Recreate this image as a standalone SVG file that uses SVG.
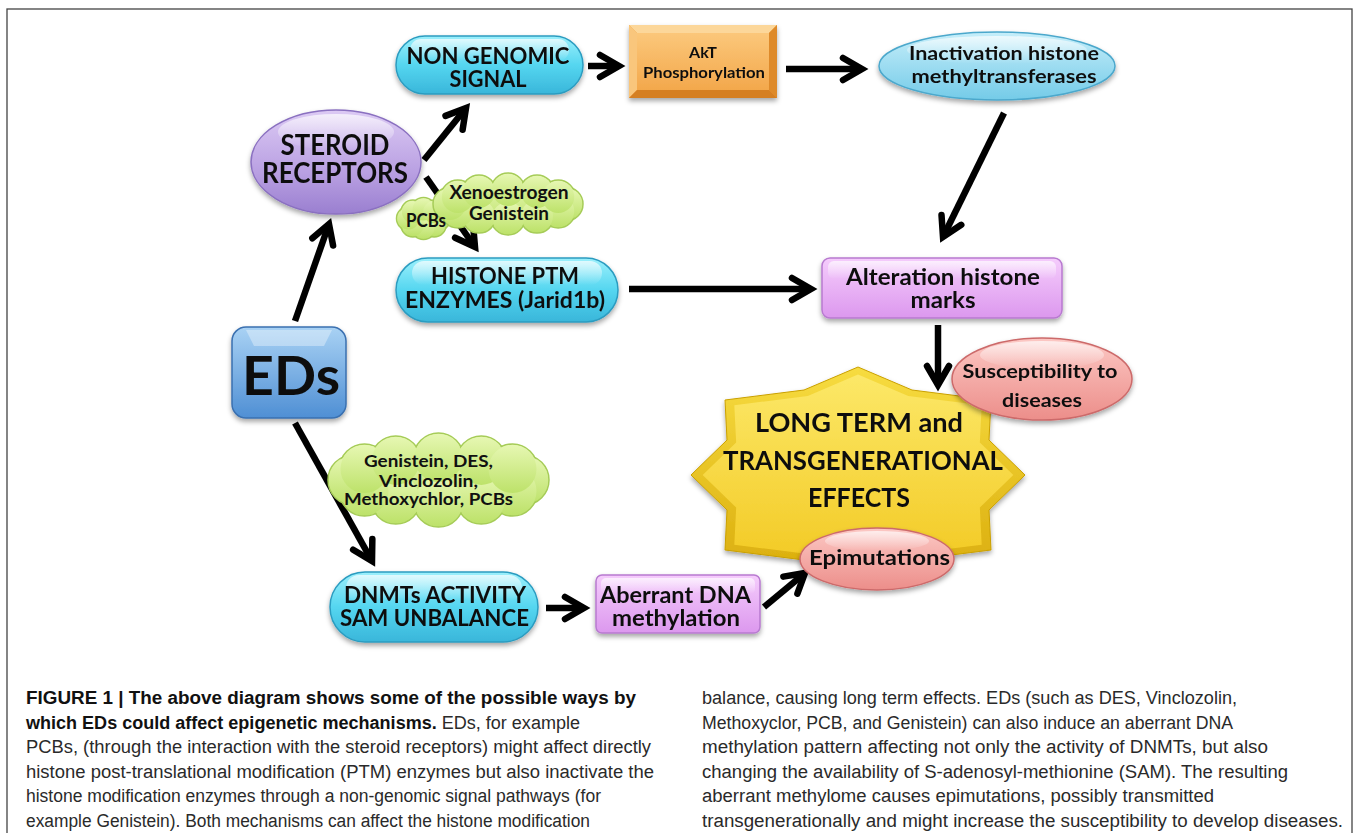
<svg xmlns="http://www.w3.org/2000/svg" width="1357" height="833" viewBox="0 0 1357 833">
<defs>
<style>
.lbl{font-family:Lato,"Liberation Sans",sans-serif;font-weight:bold;fill:#111;text-anchor:middle}
.cap{font-family:"Liberation Sans",Arial,sans-serif;font-size:18px;fill:#2a2a2a}
.capb{font-weight:bold;fill:#111}
.arr{stroke:#000;stroke-width:6.5;fill:none;marker-end:url(#ah)}
.sh{filter:url(#ds)}
</style>
<filter id="ds" x="-20%" y="-20%" width="140%" height="150%"><feDropShadow dx="0" dy="3" stdDeviation="2.5" flood-color="#000" flood-opacity="0.35"/></filter>
<marker id="ah" viewBox="-26 -16 34 32" refX="0" refY="0" markerWidth="34" markerHeight="32" orient="auto" markerUnits="userSpaceOnUse" overflow="visible">
<path d="M-19,-11 L0,0 L-19,11" fill="none" stroke="#000" stroke-width="6.5" stroke-linecap="round" stroke-linejoin="miter"/>
</marker>
<linearGradient id="gCyan" x1="0" y1="0" x2="0" y2="1"><stop offset="0" stop-color="#9cf0fc"/><stop offset="0.5" stop-color="#55d6f0"/><stop offset="1" stop-color="#39b6da"/></linearGradient>
<linearGradient id="gGloss" x1="0" y1="0" x2="0" y2="1"><stop offset="0" stop-color="#fff" stop-opacity="0.7"/><stop offset="1" stop-color="#fff" stop-opacity="0"/></linearGradient>
<linearGradient id="gLav" x1="0" y1="0" x2="0" y2="1"><stop offset="0" stop-color="#dccaf4"/><stop offset="0.6" stop-color="#b9a0e2"/><stop offset="1" stop-color="#9a7fd0"/></linearGradient>
<linearGradient id="gOr" x1="0" y1="0" x2="0" y2="1"><stop offset="0" stop-color="#fbc77a"/><stop offset="1" stop-color="#f3a84c"/></linearGradient>
<linearGradient id="gLb" x1="0" y1="0" x2="0" y2="1"><stop offset="0" stop-color="#c6eefa"/><stop offset="1" stop-color="#74cbe8"/></linearGradient>
<linearGradient id="gVio" x1="0" y1="0" x2="0" y2="1"><stop offset="0" stop-color="#f5ccfc"/><stop offset="1" stop-color="#dc98ee"/></linearGradient>
<linearGradient id="gBlue" x1="0" y1="0" x2="0" y2="1"><stop offset="0" stop-color="#a9d2f4"/><stop offset="1" stop-color="#4f8fd4"/></linearGradient>
<linearGradient id="gSal" x1="0" y1="0" x2="0" y2="1"><stop offset="0" stop-color="#fcc8c4"/><stop offset="1" stop-color="#ec8e8a"/></linearGradient>
<linearGradient id="gYel" x1="0" y1="0" x2="0" y2="1"><stop offset="0" stop-color="#fce868"/><stop offset="1" stop-color="#f2c820"/></linearGradient>
<linearGradient id="gYelD" x1="0" y1="0" x2="0" y2="1"><stop offset="0" stop-color="#f7dc40"/><stop offset="1" stop-color="#d9ab0a"/></linearGradient>
<linearGradient id="gGr" x1="0" y1="0" x2="0" y2="1"><stop offset="0" stop-color="#e6f7b2"/><stop offset="1" stop-color="#bde26a"/></linearGradient>
</defs>
<rect x="7" y="9" width="1345" height="860" fill="#fff" stroke="#444" stroke-width="1.3"/>

<g id="connectors">
<line class="arr" x1="295" y1="321" x2="329" y2="224"/>
<line class="arr" x1="424" y1="160" x2="466" y2="108"/>
<line class="arr" x1="426" y1="177" x2="475" y2="247"/>
<line class="arr" x1="588" y1="66" x2="619" y2="66"/>
<line class="arr" x1="786" y1="69" x2="862" y2="69"/>
<line class="arr" x1="1004" y1="113" x2="943" y2="237"/>
<line class="arr" x1="629" y1="289" x2="811" y2="289"/>
<line class="arr" x1="938" y1="325" x2="938" y2="385"/>
<line class="arr" x1="295" y1="423" x2="372" y2="561"/>
<line class="arr" x1="546" y1="608" x2="584" y2="608"/>
<line class="arr" x1="764" y1="607" x2="805" y2="573"/>
</g>

<g id="non-genomic" class="sh">
<rect x="396" y="36" width="187" height="58" rx="29" fill="url(#gCyan)" stroke="#2c9cc0" stroke-width="1.5"/>
<rect x="410" y="39" width="159" height="22" rx="11" fill="url(#gGloss)" style="filter:none"/>
<text class="lbl" x="488" y="64" font-size="22" textLength="163" lengthAdjust="spacingAndGlyphs">NON GENOMIC</text>
<text class="lbl" x="488" y="87" font-size="22" textLength="77" lengthAdjust="spacingAndGlyphs">SIGNAL</text>
</g>

<g id="akt" class="sh">
<rect x="629" y="25" width="148" height="73" fill="#ee9c3c"/>
<polygon points="629,25 777,25 769,33 637,33" fill="#fcd79a"/>
<polygon points="629,25 637,33 637,90 629,98" fill="#f9c67c"/>
<polygon points="777,25 777,98 769,90 769,33" fill="#de8a2c"/>
<polygon points="629,98 637,90 769,90 777,98" fill="#d57f22"/>
<rect x="637" y="33" width="132" height="57" fill="url(#gOr)"/>
<text class="lbl" x="703" y="58" font-size="15.5" textLength="28" lengthAdjust="spacingAndGlyphs">AkT</text>
<text class="lbl" x="704" y="78" font-size="15.5" textLength="122" lengthAdjust="spacingAndGlyphs">Phosphorylation</text>
</g>

<g id="inactivation" class="sh">
<ellipse cx="997" cy="66" rx="118" ry="34" fill="url(#gLb)" stroke="#4ca8cc" stroke-width="1.5"/>
<ellipse cx="997" cy="50" rx="90" ry="14" fill="url(#gGloss)" style="filter:none"/>
<text class="lbl" x="1004" y="60" font-size="19" textLength="190" lengthAdjust="spacingAndGlyphs">Inactivation histone</text>
<text class="lbl" x="1004" y="83" font-size="19" textLength="185" lengthAdjust="spacingAndGlyphs">methyltransferases</text>
</g>

<g id="steroid" class="sh">
<ellipse cx="336" cy="162" rx="85" ry="52" fill="url(#gLav)" stroke="#8a70c0" stroke-width="1.5"/>
<ellipse cx="336" cy="132" rx="58" ry="18" fill="url(#gGloss)" style="filter:none"/>
<text class="lbl" x="335" y="155" font-size="28" textLength="109" lengthAdjust="spacingAndGlyphs">STEROID</text>
<text class="lbl" x="335" y="183" font-size="28" textLength="146" lengthAdjust="spacingAndGlyphs">RECEPTORS</text>
</g>

<g id="cloud-xeno">
<g fill="url(#gGr)" stroke="#a6cc58" stroke-width="1.5">
<circle cx="438.5" cy="218.5" r="12"/><circle cx="434.1" cy="224.9" r="12"/><circle cx="423.5" cy="227.5" r="12"/><circle cx="412.9" cy="224.9" r="12"/><circle cx="408.5" cy="218.5" r="12"/><circle cx="412.9" cy="212.1" r="12"/><circle cx="423.5" cy="209.5" r="12"/><circle cx="434.1" cy="212.1" r="12"/>
</g>
<g fill="url(#gGr)"><ellipse cx="423.5" cy="218.5" rx="18" ry="12"/>
<circle cx="438.5" cy="218.5" r="11"/><circle cx="434.1" cy="224.9" r="11"/><circle cx="423.5" cy="227.5" r="11"/><circle cx="412.9" cy="224.9" r="11"/><circle cx="408.5" cy="218.5" r="11"/><circle cx="412.9" cy="212.1" r="11"/><circle cx="423.5" cy="209.5" r="11"/><circle cx="434.1" cy="212.1" r="11"/></g>
<g fill="url(#gGr)" stroke="#a6cc58" stroke-width="1.5">
<circle cx="566" cy="204" r="17"/><circle cx="558.2" cy="211" r="17"/><circle cx="537" cy="216.1" r="17"/><circle cx="508" cy="218" r="17"/><circle cx="479" cy="216.1" r="17"/><circle cx="457.8" cy="211" r="17"/><circle cx="450" cy="204" r="17"/><circle cx="457.8" cy="197" r="17"/><circle cx="479" cy="191.9" r="17"/><circle cx="508" cy="190" r="17"/><circle cx="537" cy="191.9" r="17"/><circle cx="558.2" cy="197" r="17"/>
</g>
<g fill="url(#gGr)"><ellipse cx="508" cy="204" rx="60" ry="20"/>
<circle cx="566" cy="204" r="16"/><circle cx="558.2" cy="211" r="16"/><circle cx="537" cy="216.1" r="16"/><circle cx="508" cy="218" r="16"/><circle cx="479" cy="216.1" r="16"/><circle cx="457.8" cy="211" r="16"/><circle cx="450" cy="204" r="16"/><circle cx="457.8" cy="197" r="16"/><circle cx="479" cy="191.9" r="16"/><circle cx="508" cy="190" r="16"/><circle cx="537" cy="191.9" r="16"/><circle cx="558.2" cy="197" r="16"/></g>
<text class="lbl" x="509" y="199" font-size="18" textLength="119" lengthAdjust="spacingAndGlyphs">Xenoestrogen</text>
<text class="lbl" x="509" y="220" font-size="18" textLength="80" lengthAdjust="spacingAndGlyphs">Genistein</text>
<text class="lbl" x="426" y="227" font-size="18" textLength="40" lengthAdjust="spacingAndGlyphs">PCBs</text>
</g>

<g id="histone-ptm" class="sh">
<rect x="396" y="258" width="222" height="64" rx="32" fill="url(#gCyan)" stroke="#2c9cc0" stroke-width="1.5"/>
<rect x="412" y="261" width="190" height="24" rx="12" fill="url(#gGloss)" style="filter:none"/>
<text class="lbl" x="505" y="284" font-size="22" textLength="148" lengthAdjust="spacingAndGlyphs">HISTONE PTM</text>
<text class="lbl" x="505" y="308" font-size="22" textLength="200" lengthAdjust="spacingAndGlyphs">ENZYMES (Jarid1b)</text>
</g>

<g id="alteration" class="sh">
<rect x="822" y="258" width="240" height="60" rx="8" fill="url(#gVio)" stroke="#b87ad0" stroke-width="1.5"/>
<rect x="828" y="261" width="228" height="18" rx="6" fill="url(#gGloss)" style="filter:none"/>
<text class="lbl" x="943" y="285" font-size="22" textLength="194" lengthAdjust="spacingAndGlyphs">Alteration histone</text>
<text class="lbl" x="943" y="308" font-size="22" textLength="65" lengthAdjust="spacingAndGlyphs">marks</text>
</g>

<g id="eds" class="sh">
<rect x="232" y="327" width="114" height="91" rx="14" fill="url(#gBlue)" stroke="#3a70b0" stroke-width="1.5"/>
<path d="M246,330 H332 L324,346 H254 Z" fill="#fff" opacity="0.35"/>
<text class="lbl" x="291" y="395" font-size="54" textLength="98" lengthAdjust="spacingAndGlyphs">EDs</text>
</g>

<g id="star" class="sh">
<polygon points="858,367 912,390 991,400 989,440 1025,475 989,510 991,550 912,560 858,583 804,560 725,550 727,510 691,475 727,440 725,400 804,390" fill="url(#gYelD)" stroke="#caa000" stroke-width="1"/>
<polygon transform="translate(858,475) scale(0.93) translate(-858,-475)" points="858,367 912,390 991,400 989,440 1025,475 989,510 991,550 912,560 858,583 804,560 725,550 727,510 691,475 727,440 725,400 804,390" fill="url(#gYel)"/>
<text class="lbl" x="859" y="432" font-size="27" textLength="208" lengthAdjust="spacingAndGlyphs">LONG TERM and</text>
<text class="lbl" x="863" y="470" font-size="27" textLength="280" lengthAdjust="spacingAndGlyphs">TRANSGENERATIONAL</text>
<text class="lbl" x="859" y="507" font-size="27" textLength="102" lengthAdjust="spacingAndGlyphs">EFFECTS</text>
</g>

<g id="susceptibility" class="sh">
<ellipse cx="1042" cy="379" rx="90" ry="41" fill="url(#gSal)" stroke="#cc6a6a" stroke-width="1.5"/>
<ellipse cx="1042" cy="355" rx="62" ry="14" fill="url(#gGloss)" style="filter:none"/>
<text class="lbl" x="1040" y="378" font-size="19" textLength="155" lengthAdjust="spacingAndGlyphs">Susceptibility to</text>
<text class="lbl" x="1042" y="407" font-size="19" textLength="80" lengthAdjust="spacingAndGlyphs">diseases</text>
</g>

<g id="cloud-genistein">
<g fill="url(#gGr)" stroke="#a6cc58" stroke-width="1.5">
<circle cx="524" cy="480" r="25"/><circle cx="512.5" cy="491" r="25"/><circle cx="481.3" cy="499.1" r="25"/><circle cx="438.5" cy="502" r="25"/><circle cx="395.8" cy="499.1" r="25"/><circle cx="364.5" cy="491" r="25"/><circle cx="353" cy="480" r="25"/><circle cx="364.5" cy="469" r="25"/><circle cx="395.8" cy="460.9" r="25"/><circle cx="438.5" cy="458" r="25"/><circle cx="481.3" cy="460.9" r="25"/><circle cx="512.5" cy="469" r="25"/>
</g>
<g fill="url(#gGr)"><ellipse cx="438.5" cy="480" rx="88" ry="30"/>
<circle cx="524" cy="480" r="24"/><circle cx="512.5" cy="491" r="24"/><circle cx="481.3" cy="499.1" r="24"/><circle cx="438.5" cy="502" r="24"/><circle cx="395.8" cy="499.1" r="24"/><circle cx="364.5" cy="491" r="24"/><circle cx="353" cy="480" r="24"/><circle cx="364.5" cy="469" r="24"/><circle cx="395.8" cy="460.9" r="24"/><circle cx="438.5" cy="458" r="24"/><circle cx="481.3" cy="460.9" r="24"/><circle cx="512.5" cy="469" r="24"/></g>
<text class="lbl" x="428.5" y="467" font-size="17" textLength="129" lengthAdjust="spacingAndGlyphs">Genistein, DES,</text>
<text class="lbl" x="428.5" y="487" font-size="17" textLength="99" lengthAdjust="spacingAndGlyphs">Vinclozolin,</text>
<text class="lbl" x="428.5" y="505" font-size="17" textLength="169" lengthAdjust="spacingAndGlyphs">Methoxychlor, PCBs</text>
</g>

<g id="epimutations" class="sh">
<ellipse cx="877" cy="559" rx="77" ry="31" fill="url(#gSal)" stroke="#cc6a6a" stroke-width="1.5"/>
<ellipse cx="877" cy="541" rx="52" ry="10" fill="url(#gGloss)" style="filter:none"/>
<text class="lbl" x="879.5" y="565" font-size="20.5" textLength="141" lengthAdjust="spacingAndGlyphs">Epimutations</text>
</g>

<g id="dnmts" class="sh">
<rect x="330" y="572" width="208" height="70" rx="35" fill="url(#gCyan)" stroke="#2c9cc0" stroke-width="1.5"/>
<rect x="346" y="575" width="176" height="26" rx="13" fill="url(#gGloss)" style="filter:none"/>
<text class="lbl" x="435" y="603" font-size="23" textLength="182" lengthAdjust="spacingAndGlyphs">DNMTs ACTIVITY</text>
<text class="lbl" x="434.5" y="626" font-size="23" textLength="189" lengthAdjust="spacingAndGlyphs">SAM UNBALANCE</text>
</g>

<g id="aberrant" class="sh">
<rect x="596" y="575" width="164" height="58" rx="6" fill="url(#gVio)" stroke="#b87ad0" stroke-width="1.5"/>
<rect x="601" y="578" width="154" height="16" rx="5" fill="url(#gGloss)" style="filter:none"/>
<text class="lbl" x="675.5" y="603" font-size="22" textLength="151" lengthAdjust="spacingAndGlyphs">Aberrant DNA</text>
<text class="lbl" x="676" y="626" font-size="22" textLength="128" lengthAdjust="spacingAndGlyphs">methylation</text>
</g>

<g id="caption">
<text class="cap capb" x="26" y="704" textLength="610" lengthAdjust="spacingAndGlyphs">FIGURE 1 | The above diagram shows some of the possible ways by</text>
<text class="cap" x="26" y="728.5" textLength="554" lengthAdjust="spacingAndGlyphs"><tspan class="capb">which EDs could affect epigenetic mechanisms.</tspan> EDs, for example</text>
<text class="cap" x="26" y="753" textLength="625" lengthAdjust="spacingAndGlyphs">PCBs, (through the interaction with the steroid receptors) might affect directly</text>
<text class="cap" x="26" y="777.5" textLength="628" lengthAdjust="spacingAndGlyphs">histone post-translational modification (PTM) enzymes but also inactivate the</text>
<text class="cap" x="26" y="802" textLength="575" lengthAdjust="spacingAndGlyphs">histone modification enzymes through a non-genomic signal pathways (for</text>
<text class="cap" x="26" y="826.5" textLength="564" lengthAdjust="spacingAndGlyphs">example Genistein). Both mechanisms can affect the histone modification</text>
<text class="cap" x="702" y="704" textLength="535" lengthAdjust="spacingAndGlyphs">balance, causing long term effects. EDs (such as DES, Vinclozolin,</text>
<text class="cap" x="702" y="728.5" textLength="531" lengthAdjust="spacingAndGlyphs">Methoxyclor, PCB, and Genistein) can also induce an aberrant DNA</text>
<text class="cap" x="702" y="753" textLength="566" lengthAdjust="spacingAndGlyphs">methylation pattern affecting not only the activity of DNMTs, but also</text>
<text class="cap" x="702" y="777.5" textLength="586" lengthAdjust="spacingAndGlyphs">changing the availability of S-adenosyl-methionine (SAM). The resulting</text>
<text class="cap" x="702" y="802" textLength="512" lengthAdjust="spacingAndGlyphs">aberrant methylome causes epimutations, possibly transmitted</text>
<text class="cap" x="702" y="826.5" textLength="641" lengthAdjust="spacingAndGlyphs">transgenerationally and might increase the susceptibility to develop diseases.</text>
</g>
</svg>
